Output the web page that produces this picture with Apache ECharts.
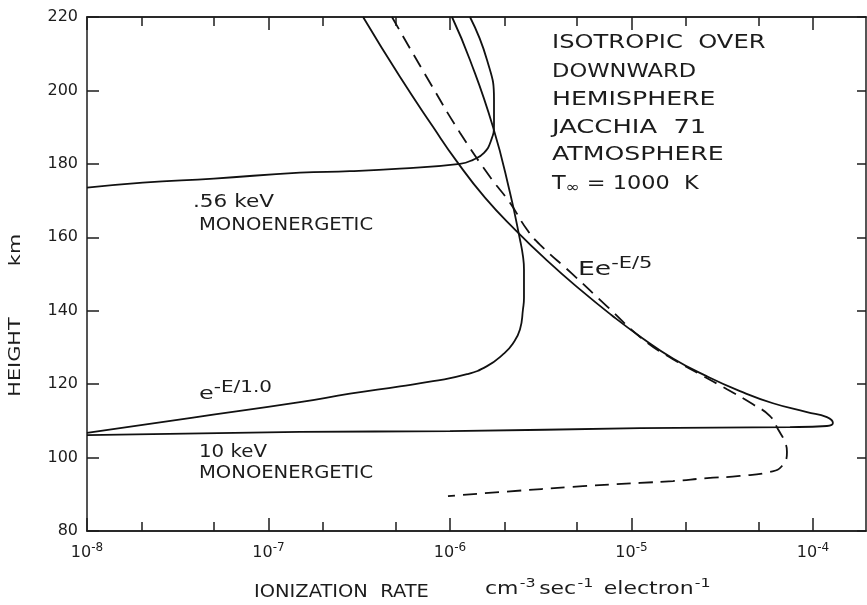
<!DOCTYPE html>
<html><head><meta charset="utf-8">
<script src="https://cdn.jsdelivr.net/npm/echarts@6/dist/echarts.min.js"></script>
<style>html,body{margin:0;padding:0;background:#fff}#c{width:867px;height:605px}</style>
</head><body><div id="c"></div>
<script>
// ---- tick values ----
const xMajorTicks = [1e-8, 1e-7, 1e-6, 1e-5, 1e-4];
const xMinorTicks = [2e-8, 5e-8, 2e-7, 5e-7, 2e-6, 5e-6, 2e-5, 5e-5];
const yTicks = [80, 100, 120, 140, 160, 180, 200, 220];

// ---- 10 keV monoenergetic (solid) ----
const kev10X = [1e-8, 1.49e-7, 1e-6, 1.114e-5, 7.47e-5, 1.194e-4, 1.288e-4, 1.194e-4, 9.27e-5, 6.02e-5, 3.96e-5, 2.61e-5, 1.693e-5, 1.114e-5, 7.81e-6, 5.20e-6, 3.42e-6, 2.281e-6, 1.559e-6, 1.093e-6, 8.06e-7, 5.30e-7, 3.32e-7];
const kev10Y = [106.1, 107.0, 107.2, 108.0, 108.3, 108.6, 109.4, 111.0, 112.4, 114.8, 118.1, 122.1, 127.0, 133.0, 138.7, 145.8, 153.7, 162.1, 170.8, 180.6, 190.1, 203.7, 220];

// ---- e^{-E/1.0} spectrum (solid) ----
const expE1X = [1e-8, 3.84e-8, 1.49e-7, 2.81e-7, 5.30e-7, 8.06e-7, 1.241e-6, 1.60e-6, 1.959e-6, 2.224e-6, 2.43e-6, 2.525e-6, 2.557e-6, 2.557e-6, 2.525e-6, 2.43e-6, 2.14e-6, 1.725e-6, 1.289e-6, 1.026e-6];
const expE1Y = [106.7, 110.9, 115.1, 117.4, 119.4, 120.8, 122.7, 124.9, 128.1, 131.1, 134.9, 140.4, 143.5, 151.2, 154.8, 159.4, 172.2, 190.1, 208.3, 220];

// ---- .56 keV monoenergetic (solid) ----
const kev056X = [1e-8, 2.03e-8, 5e-8, 1.49e-7, 2.81e-7, 5.30e-7, 1.135e-6, 1.339e-6, 1.54e-6, 1.682e-6, 1.748e-6, 1.748e-6, 1.60e-6, 1.289e-6];
const kev056Y = [173.5, 174.9, 176.0, 177.6, 178.0, 178.7, 180.0, 181.1, 183.0, 186.3, 190.6, 197.4, 208.3, 220];

// ---- E e^{-E/5} spectrum (dashed) ----
const eExpE5X = [4.79e-7, 7.76e-7, 1.135e-6, 1.66e-6, 2.14e-6, 2.656e-6, 3.13e-6, 4.70e-6, 7.33e-6, 1.157e-5, 1.693e-5, 2.385e-5, 3.36e-5, 4.67e-5, 5.80e-5, 6.42e-5, 7.01e-5, 7.19e-5, 6.75e-5, 5.80e-5, 3.96e-5, 2.61e-5, 1.693e-5, 1.114e-5, 5.40e-6, 1.887e-6, 9.75e-7];
const eExpE5Y = [220, 202.1, 188.5, 176.5, 169.4, 162.1, 158.0, 150.1, 141.2, 132.2, 126.8, 122.7, 118.6, 114.5, 111.3, 107.7, 104.2, 101.5, 97.7, 96.1, 95.0, 94.4, 93.6, 93.1, 92.2, 90.6, 89.5];

const FONT = 'DejaVu Sans';
const INK = '#1c1c1c';
function pairs(xs, ys) { return xs.map((x, i) => [x, ys[i]]); }

const chart = echarts.init(document.getElementById('c'), null, { renderer: 'canvas' });

function xAxisDef(position, ticks, len, showLabel) {
  return {
    type: 'log', logBase: 10, min: 1e-8, max: 1.96e-4, position: position,
    splitLine: { show: false }, minorTick: { show: false },
    axisLine: { show: true, onZero: false, lineStyle: { color: INK, width: 1.5 } },
    axisTick: { show: true, inside: true, length: len, customValues: ticks, lineStyle: { color: INK, width: 1.5 } },
    axisLabel: showLabel ? {
      show: true, customValues: ticks, margin: 11,
      formatter: function (v) { return '{b|10}{s|' + Math.round(Math.log10(v)) + '}'; },
      rich: {
        b: { fontFamily: FONT, fontSize: 16, lineHeight: 18, padding: [4, 0, 0, 0], color: INK },
        s: { fontFamily: FONT, fontSize: 12, lineHeight: 13, verticalAlign: 'top', color: INK }
      }
    } : { show: false }
  };
}

function txt(x, y, text, size, sx, extra) {
  return Object.assign({
    type: 'text', x: x, y: y, scaleX: sx, silent: true,
    style: { text: text, fontFamily: FONT, fontSize: size, fill: INK, align: 'left', verticalAlign: 'middle' }
  }, extra || {});
}

const supRich = function (bs, ss, pad) {
  return {
    b: { fontFamily: FONT, fontSize: bs, lineHeight: bs + 1, padding: [pad, 0, 0, 0], fill: INK, color: INK },
    s: { fontFamily: FONT, fontSize: ss, lineHeight: ss + 1, verticalAlign: 'top', fill: INK, color: INK }
  };
};

const lineStyleSolid = { color: '#111', width: 1.8, type: 'solid' };
const SMOOTH = 0.5;

const option = {
  animation: false,
  backgroundColor: '#fff',
  grid: { left: 87, right: 1, top: 17, bottom: 74, containLabel: false },
  xAxis: [
    xAxisDef('bottom', xMajorTicks, 13, true),
    xAxisDef('bottom', xMinorTicks, 9, false),
    xAxisDef('top', xMajorTicks, 13, false),
    xAxisDef('top', xMinorTicks, 9, false)
  ],
  yAxis: [
    {
      type: 'value', min: 80, max: 220, interval: 20, position: 'left',
      splitLine: { show: false },
      axisLine: { show: true, onZero: false, lineStyle: { color: INK, width: 1.5 } },
      axisTick: { show: true, inside: true, length: 12, customValues: yTicks, lineStyle: { color: INK, width: 1.5 } },
      axisLabel: { show: true, customValues: yTicks, margin: 9, fontFamily: FONT, fontSize: 16, color: INK }
    },
    {
      type: 'value', min: 80, max: 220, interval: 20, position: 'right',
      splitLine: { show: false },
      axisLine: { show: true, onZero: false, lineStyle: { color: INK, width: 1.5 } },
      axisTick: { show: true, inside: true, length: 9, customValues: yTicks, lineStyle: { color: INK, width: 1.5 } },
      axisLabel: { show: false }
    }
  ],
  series: [
    { name: '10 keV monoenergetic', type: 'line', xAxisIndex: 0, yAxisIndex: 0, data: pairs(kev10X, kev10Y),
      symbol: 'none', smooth: SMOOTH, lineStyle: lineStyleSolid, silent: true },
    { name: 'e^-E/1.0', type: 'line', xAxisIndex: 0, yAxisIndex: 0, data: pairs(expE1X, expE1Y),
      symbol: 'none', smooth: SMOOTH, lineStyle: lineStyleSolid, silent: true },
    { name: '.56 keV monoenergetic', type: 'line', xAxisIndex: 0, yAxisIndex: 0, data: pairs(kev056X, kev056Y),
      symbol: 'none', smooth: SMOOTH, lineStyle: lineStyleSolid, silent: true },
    { name: 'Ee^-E/5', type: 'line', xAxisIndex: 0, yAxisIndex: 0, data: pairs(eExpE5X, eExpE5Y),
      symbol: 'none', smooth: SMOOTH, lineStyle: { color: '#111', width: 1.8, type: [14, 8] }, silent: true }
  ],
  graphic: [
    // right-hand annotation block
    txt(552, 43, 'ISOTROPIC  OVER', 20, 1.21),
    txt(552, 72, 'DOWNWARD', 20, 1.13),
    txt(552, 100, 'HEMISPHERE', 20, 1.26),
    txt(552, 128, 'JACCHIA  71', 20, 1.29),
    txt(552, 155, 'ATMOSPHERE', 20, 1.26),
    { type: 'text', x: 552, y: 174, scaleX: 1.12, silent: true,
      style: { text: '{b|T}{u|∞}{b| = 1000  K}', verticalAlign: 'top', align: 'left',
        rich: {
          b: { fontFamily: FONT, fontSize: 20, lineHeight: 22, padding: [0, 0, 2, 0], fill: INK, color: INK },
          u: { fontFamily: FONT, fontSize: 15, lineHeight: 15, verticalAlign: 'bottom', fill: INK, color: INK }
        } } },
    // curve labels
    txt(193, 202, '.56 keV', 18, 1.2),
    txt(199, 226, 'MONOENERGETIC', 17, 1.15),
    txt(199, 452, '10 keV', 18, 1.1),
    txt(199, 474, 'MONOENERGETIC', 17, 1.15),
    { type: 'text', x: 199, y: 381, scaleX: 1.33, silent: true,
      style: { text: '{b|e}{s|-E/1.0}', verticalAlign: 'top', align: 'left', rich: supRich(18, 15, 7) } },
    { type: 'text', x: 578, y: 257, scaleX: 1.4, silent: true,
      style: { text: '{b|Ee}{s|-E/5}', verticalAlign: 'top', align: 'left', rich: supRich(19, 15, 7) } },
    // axis titles
    txt(254, 592, 'IONIZATION  RATE', 18, 1.08),
    { type: 'text', x: 485, y: 577, scaleX: 1.22, silent: true,
      style: { text: '{b|cm}{s|-3}{b|sec}{s|-1}{b| electron}{s|-1}', verticalAlign: 'top', align: 'left',
        rich: {
          b: { fontFamily: FONT, fontSize: 18, lineHeight: 19, padding: [6, 0, 0, 0], fill: INK, color: INK },
          s: { fontFamily: FONT, fontSize: 13, lineHeight: 14, verticalAlign: 'top', padding: [0, 3, 0, 1], fill: INK, color: INK }
        } } },
    { type: 'text', x: 16, y: 357, rotation: Math.PI / 2, scaleX: 1.3, silent: true,
      style: { text: 'HEIGHT', fontFamily: FONT, fontSize: 16, fill: INK, align: 'center', verticalAlign: 'middle' } },
    { type: 'text', x: 16, y: 250, rotation: Math.PI / 2, scaleX: 1.3, silent: true,
      style: { text: 'km', fontFamily: FONT, fontSize: 16, fill: INK, align: 'center', verticalAlign: 'middle' } }
  ]
};
chart.setOption(option);
</script>
</body></html>
